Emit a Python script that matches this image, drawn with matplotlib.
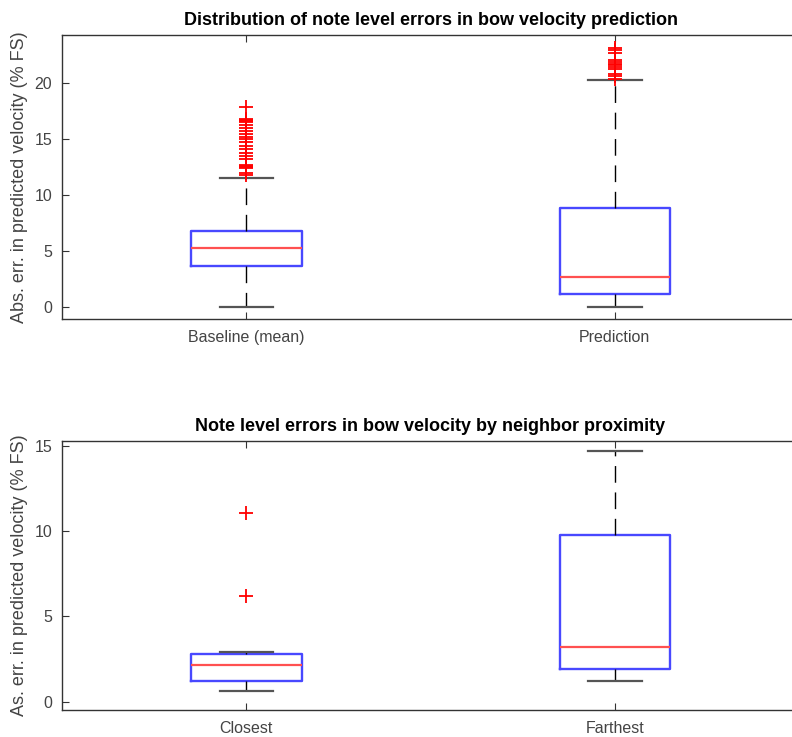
import matplotlib
matplotlib.use("Agg")
import matplotlib.pyplot as plt

plt.rcParams['font.family'] = ['Liberation Sans', 'DejaVu Sans']

# summary statistics per group: whisker low, q1, median, q3, whisker high
top_labels = ["Baseline (mean)", "Prediction"]
top_whislo = [0.0, 0.0]
top_q1 = [3.6, 1.15]
top_med = [5.25, 2.7]
top_q3 = [6.75, 8.8]
top_whishi = [11.5, 20.25]
top_fliers = [
    [11.8, 12.0, 12.4, 12.5, 12.6, 12.7, 13.2, 13.5, 13.8, 14.1, 14.4, 14.7,
     14.97, 15.2, 15.5, 15.74, 16.0, 16.25, 16.5, 16.6, 16.7, 16.8, 17.88],
    [20.4, 20.65, 20.85, 21.3, 21.45, 21.6, 21.75, 21.9, 22.05, 22.74,
     22.95, 23.15],
]

bottom_labels = ["Closest", "Farthest"]
bottom_whislo = [0.6, 1.2]
bottom_q1 = [1.2, 1.92]
bottom_med = [2.13, 3.2]
bottom_q3 = [2.82, 9.78]
bottom_whishi = [2.92, 14.7]
bottom_fliers = [[6.17, 11.05], []]


def make_stats(labels, whislo, q1, med, q3, whishi, fliers):
    stats = []
    for i in range(len(labels)):
        stats.append({
            "label": labels[i],
            "whislo": whislo[i],
            "q1": q1[i],
            "med": med[i],
            "q3": q3[i],
            "whishi": whishi[i],
            "fliers": fliers[i],
        })
    return stats


def draw_box(ax, stats, ylim, yticks, title, ylabel):
    ax.bxp(stats, positions=[1, 2], widths=0.3, showfliers=True,
           boxprops=dict(color="#4848ff", linewidth=1.7),
           medianprops=dict(color="#ff5050", linewidth=1.6),
           whiskerprops=dict(color="black", linestyle=(0, (12, 7)), linewidth=1.0),
           capprops=dict(color="#555555", linewidth=1.6),
           capwidths=0.145,
           flierprops=dict(marker="+", markeredgecolor="red",
                           markersize=10, markeredgewidth=1.3, linestyle="none"))
    ax.set_xlim(0.5, 2.5)
    ax.set_ylim(*ylim)
    ax.set_yticks(yticks)
    ax.tick_params(direction="in", top=True, right=True, length=5,
                   labelsize=11.5, colors="#333333", labelcolor="#444444")
    ax.tick_params(axis="x", pad=8)
    ax.tick_params(axis="y", pad=7)
    for s in ax.spines.values():
        s.set_color("#333333")
        s.set_linewidth(1.0)
    ax.set_title(title, fontsize=13, fontweight="bold", pad=7)
    ax.set_ylabel(ylabel, fontsize=13, color="#444444", labelpad=5)


fig = plt.figure(figsize=(7.92, 7.37), dpi=100)
ax1 = fig.add_axes([0.0783, 0.5672, 0.9306, 0.3853])
ax2 = fig.add_axes([0.0783, 0.0366, 0.9306, 0.3655])

draw_box(ax1, make_stats(top_labels, top_whislo, top_q1, top_med, top_q3,
                         top_whishi, top_fliers),
         (-1.1, 24.32), [0, 5, 10, 15, 20],
         "Distribution of note level errors in bow velocity prediction",
         "Abs. err. in predicted velocity (% FS)")
draw_box(ax2, make_stats(bottom_labels, bottom_whislo, bottom_q1, bottom_med,
                         bottom_q3, bottom_whishi, bottom_fliers),
         (-0.49, 15.31), [0, 5, 10, 15],
         "Note level errors in bow velocity by neighbor proximity",
         "As. err. in predicted velocity (% FS)")

fig.savefig("out.png", dpi=100)
